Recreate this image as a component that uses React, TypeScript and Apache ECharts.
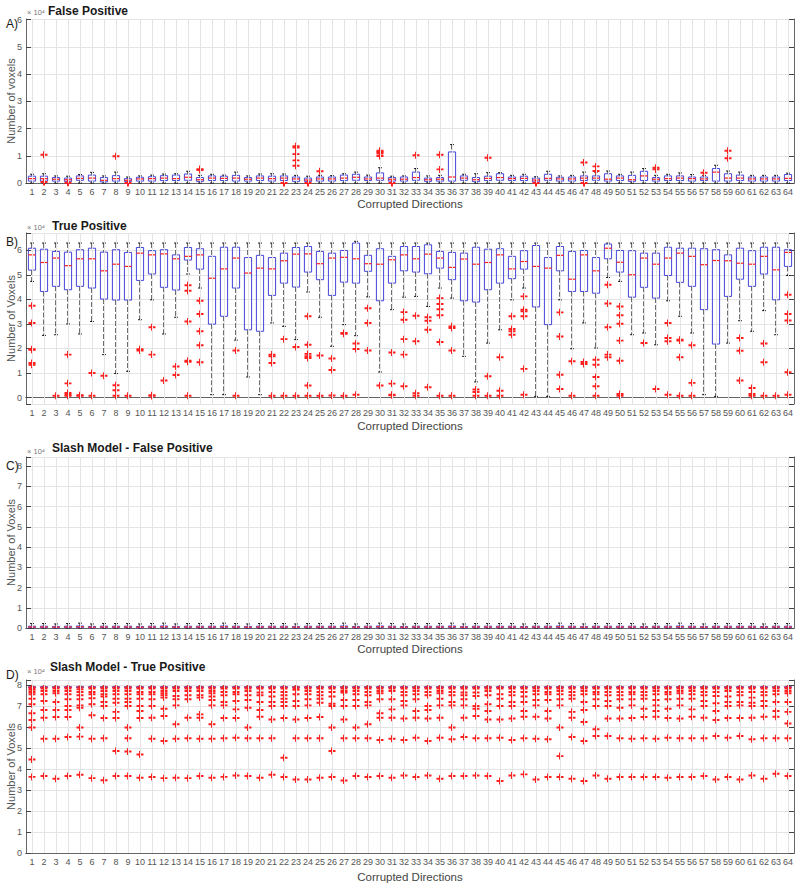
import React, { useEffect, useRef } from 'react';
import * as echarts from 'echarts';

// ---------------- DATA (values in units of 10^4 voxels) ----------------
const categories: string[] = Array.from({ length: 64 }, (_, i) => String(i + 1));

// Panel A — False Positive
const aLow = [
  0, 0, 0, 0, 0, 0, 0, 0,
  0, 0, 0, 0, 0, 0, 0, 0,
  0, 0, 0, 0, 0, 0, 0, 0,
  0, 0, 0, 0, 0, 0, 0, 0,
  0, 0, 0, 0, 0, 0, 0, 0,
  0, 0, 0, 0, 0, 0, 0, 0,
  0, 0, 0, 0, 0, 0, 0, 0,
  0, 0, 0, 0, 0, 0, 0, 0,
];
const aQ1 = [
  0.07, 0.07, 0.07, 0.06, 0.10, 0.07, 0.04, 0.07,
  0.06, 0.07, 0.07, 0.09, 0.09, 0.10, 0.06, 0.09,
  0.09, 0.07, 0.07, 0.09, 0.07, 0.09, 0.06, 0.06,
  0.07, 0.07, 0.09, 0.10, 0.09, 0.10, 0.07, 0.07,
  0.10, 0.06, 0.07, 0.07, 0.10, 0.05, 0.09, 0.10,
  0.09, 0.09, 0.04, 0.10, 0.07, 0.07, 0.09, 0.10,
  0.07, 0.09, 0.06, 0.09, 0.07, 0.09, 0.09, 0.07,
  0.09, 0.07, 0.07, 0.09, 0.07, 0.07, 0.07, 0.09,
];
const aMed = [
  0.16, 0.16, 0.14, 0.12, 0.17, 0.18, 0.10, 0.16,
  0.10, 0.15, 0.16, 0.18, 0.16, 0.21, 0.12, 0.18,
  0.17, 0.18, 0.14, 0.18, 0.16, 0.18, 0.15, 0.11,
  0.15, 0.15, 0.18, 0.21, 0.15, 0.18, 0.14, 0.14,
  0.20, 0.12, 0.14, 0.22, 0.18, 0.12, 0.17, 0.20,
  0.16, 0.17, 0.11, 0.17, 0.15, 0.15, 0.18, 0.18,
  0.14, 0.18, 0.12, 0.26, 0.14, 0.16, 0.18, 0.16,
  0.15, 0.40, 0.18, 0.18, 0.15, 0.15, 0.15, 0.17,
];
const aQ3 = [
  0.25, 0.25, 0.20, 0.18, 0.26, 0.29, 0.20, 0.27,
  0.16, 0.21, 0.23, 0.27, 0.29, 0.33, 0.20, 0.26,
  0.25, 0.28, 0.20, 0.26, 0.25, 0.26, 0.22, 0.18,
  0.22, 0.22, 0.29, 0.32, 0.22, 0.37, 0.20, 0.22,
  0.40, 0.18, 0.20, 1.14, 0.26, 0.20, 0.25, 0.34,
  0.22, 0.25, 0.18, 0.32, 0.21, 0.22, 0.26, 0.26,
  0.34, 0.26, 0.28, 0.43, 0.20, 0.26, 0.26, 0.22,
  0.22, 0.53, 0.34, 0.29, 0.22, 0.22, 0.22, 0.31,
];
const aHigh = [
  0.32, 0.34, 0.26, 0.25, 0.31, 0.39, 0.26, 0.40,
  0.22, 0.26, 0.29, 0.33, 0.34, 0.43, 0.28, 0.32,
  0.29, 0.40, 0.26, 0.33, 0.34, 0.33, 0.28, 0.25,
  0.28, 0.27, 0.34, 0.40, 0.29, 0.56, 0.25, 0.26,
  0.53, 0.26, 0.28, 1.41, 0.32, 0.34, 0.38, 0.38,
  0.28, 0.32, 0.23, 0.43, 0.26, 0.28, 0.40, 0.40,
  0.44, 0.32, 0.40, 0.53, 0.28, 0.32, 0.37, 0.31,
  0.28, 0.65, 0.44, 0.40, 0.28, 0.28, 0.28, 0.36,
];
const aOutliers: number[][] = [
  [], [1.04, 0.04], [], [0.01], [], [], [], [0.98],
  [0.0], [], [], [], [], [], [0.51, 0.48], [],
  [], [], [], [], [], [0.0], [1.35, 1.30, 1.06, 0.83, 0.63], [0.0],
  [0.43], [], [], [], [], [1.18, 1.14, 1.08, 0.99], [0.0], [],
  [1.02], [], [1.04, 0.50], [], [], [], [0.93], [],
  [], [], [0.0], [], [], [], [0.75, 0.0], [0.61, 0.44],
  [], [], [], [], [0.56, 0.50], [], [], [],
  [0.38], [], [1.18, 0.91], [], [], [], [], [],
];

// Panel B — True Positive
const bLow = [
  4.73, 2.53, 2.56, 3.00, 2.59, 3.10, 1.75, 0.98,
  1.07, 3.17, 3.98, 2.59, 3.27, 5.03, 4.46, 0.12,
  0.12, 2.34, 0.84, 0.12, 3.04, 2.90, 2.36, 4.30,
  3.27, 2.09, 2.97, 2.52, 4.10, 1.04, 3.58, 4.09,
  4.12, 3.71, 4.46, 4.05, 1.68, 0.64, 2.22, 2.76,
  3.98, 4.46, 0.05, 0.05, 3.98, 1.99, 3.04, 2.02,
  4.89, 4.73, 2.56, 2.63, 2.15, 3.94, 3.31, 2.63,
  0.12, 0.05, 2.22, 3.13, 2.70, 3.54, 2.56, 4.97,
];
const bQ1 = [
  5.19, 4.32, 4.53, 4.39, 4.53, 4.46, 4.01, 3.97,
  3.97, 4.77, 5.03, 4.49, 4.38, 5.60, 5.23, 2.99,
  3.31, 4.46, 2.76, 2.70, 4.16, 4.66, 4.50, 5.11,
  4.80, 4.16, 4.70, 4.66, 5.14, 3.94, 4.66, 5.16,
  5.11, 5.04, 5.27, 4.80, 3.94, 3.89, 4.39, 4.66,
  4.84, 5.23, 3.69, 2.97, 5.16, 4.32, 4.32, 4.25,
  5.65, 5.11, 4.09, 4.49, 4.05, 4.97, 4.69, 4.53,
  3.58, 2.18, 4.12, 4.82, 4.53, 5.03, 3.98, 5.34,
];
const bMed = [
  5.81, 5.50, 5.68, 5.37, 5.65, 5.65, 5.16, 5.43,
  5.34, 5.88, 5.81, 5.85, 5.65, 5.75, 5.81, 4.86,
  5.24, 5.68, 5.07, 5.27, 5.24, 5.57, 5.84, 5.85,
  5.45, 5.68, 5.71, 5.65, 5.45, 5.43, 5.61, 5.81,
  5.65, 5.84, 5.68, 5.30, 5.64, 5.43, 5.50, 5.81,
  5.24, 5.54, 5.34, 5.27, 5.79, 4.82, 5.81, 5.16,
  6.08, 5.51, 5.00, 5.68, 5.43, 5.68, 5.88, 5.75,
  5.41, 5.58, 5.57, 5.47, 5.43, 5.75, 5.20, 5.91,
];
const bQ3 = [
  6.08, 6.04, 5.95, 5.92, 6.02, 6.08, 5.92, 6.02,
  5.91, 6.11, 5.98, 6.02, 5.81, 6.11, 6.06, 5.75,
  6.12, 6.12, 5.70, 5.79, 5.70, 5.88, 6.11, 6.15,
  5.95, 5.88, 5.99, 6.29, 5.79, 6.06, 5.75, 6.15,
  6.15, 6.22, 5.95, 5.91, 5.88, 6.12, 6.04, 6.06,
  5.75, 5.98, 6.19, 5.70, 6.15, 5.95, 5.99, 5.70,
  6.25, 5.99, 5.98, 5.88, 5.88, 6.12, 6.08, 6.08,
  6.06, 6.02, 5.81, 6.08, 5.98, 6.12, 6.12, 6.02,
];
const bHigh = [
  6.29, 6.29, 6.29, 6.29, 6.29, 6.29, 6.29, 6.29,
  6.29, 6.29, 6.29, 6.29, 6.29, 6.29, 6.29, 6.29,
  6.29, 6.29, 6.29, 6.29, 6.29, 6.29, 6.29, 6.29,
  6.29, 6.29, 6.29, 6.36, 6.29, 6.29, 6.29, 6.29,
  6.29, 6.29, 6.29, 6.29, 6.29, 6.29, 6.29, 6.29,
  6.29, 6.29, 6.29, 6.29, 6.29, 6.29, 6.29, 6.29,
  6.29, 6.29, 6.29, 6.29, 6.29, 6.29, 6.29, 6.29,
  6.29, 6.29, 6.29, 6.29, 6.29, 6.29, 6.29, 6.29,
];
const bOutliers: number[][] = [
  [3.74, 3.04, 1.97, 1.95, 1.41, 1.34], [], [0.08], [1.75, 0.58, 0.19, 0.12, 0.08],
  [0.10, 0.08], [1.00, 0.08], [0.89], [0.50, 0.30, 0.08],
  [0.08], [1.97, 1.92], [2.86, 1.75, 0.10, 0.07], [0.70],
  [1.27, 0.92], [4.57, 4.35, 3.10, 1.50, 1.46, 0.08], [3.94, 3.40, 2.70, 2.13, 1.44], [],
  [], [1.92, 0.08], [], [],
  [1.75, 1.68, 1.41, 0.08], [2.38, 0.08], [2.06, 0.08], [3.31, 2.15, 1.78, 1.68, 1.61, 0.49, 0.08],
  [1.71, 0.08], [1.59, 1.12, 0.09], [2.63, 2.60, 0.08], [2.20, 1.98, 0.12],
  [3.64, 3.04, 1.92], [0.49], [1.84, 0.57, 0.12, 0.10], [3.48, 3.17, 2.38, 1.75, 0.46],
  [3.33, 2.29, 0.18, 0.08], [3.27, 3.13, 2.76, 0.42], [4.05, 3.81, 3.60, 3.35, 2.26, 0.08], [2.90, 2.83, 1.92, 0.08],
  [], [0.33, 0.23, 0.08], [0.87, 0.08], [1.64, 0.28, 0.08],
  [3.31, 2.79, 2.70, 2.56], [4.12, 3.58, 3.51, 3.31, 1.17, 0.12], [], [],
  [3.47, 2.49, 0.93, 0.35], [1.48, 0.08], [1.45, 1.37], [1.54, 1.34, 0.84, 0.46, 0.08],
  [4.59, 3.83, 2.86, 1.75, 1.64], [3.71, 3.35, 3.01, 2.32, 1.50, 0.15, 0.08], [], [2.22],
  [0.35], [3.04, 2.43, 2.29, 0.12], [2.36, 2.32, 1.64, 0.08], [2.13, 0.60, 0.08],
  [], [], [], [2.43, 1.91, 0.70],
  [0.39, 0.15, 0.08], [2.20, 1.44, 0.08], [0.08], [4.19, 3.40, 3.14, 1.03, 0.12],
];

// Panel C — Slash Model, False Positive
const cLow = [
  0, 0, 0, 0, 0, 0, 0, 0,
  0, 0, 0, 0, 0, 0, 0, 0,
  0, 0, 0, 0, 0, 0, 0, 0,
  0, 0, 0, 0, 0, 0, 0, 0,
  0, 0, 0, 0, 0, 0, 0, 0,
  0, 0, 0, 0, 0, 0, 0, 0,
  0, 0, 0, 0, 0, 0, 0, 0,
  0, 0, 0, 0, 0, 0, 0, 0,
];
const cQ1 = [
  0.02, 0.02, 0.01, 0.02, 0.02, 0.01, 0.02, 0.02,
  0.02, 0.01, 0.02, 0.02, 0.01, 0.02, 0.02, 0.02,
  0.02, 0.02, 0.01, 0.02, 0.02, 0.02, 0.01, 0.02,
  0.02, 0.02, 0.02, 0.01, 0.02, 0.02, 0.02, 0.01,
  0.02, 0.02, 0.02, 0.02, 0.01, 0.02, 0.02, 0.02,
  0.02, 0.01, 0.02, 0.02, 0.02, 0.02, 0.01, 0.02,
  0.02, 0.02, 0.02, 0.01, 0.02, 0.02, 0.02, 0.02,
  0.01, 0.02, 0.02, 0.02, 0.02, 0.01, 0.02, 0.02,
];
const cMed = [
  0.05, 0.05, 0.04, 0.05, 0.06, 0.04, 0.05, 0.05,
  0.05, 0.04, 0.05, 0.06, 0.04, 0.05, 0.05, 0.05,
  0.06, 0.05, 0.04, 0.05, 0.05, 0.05, 0.04, 0.05,
  0.05, 0.05, 0.06, 0.04, 0.05, 0.06, 0.05, 0.04,
  0.05, 0.05, 0.05, 0.06, 0.04, 0.05, 0.05, 0.05,
  0.05, 0.04, 0.05, 0.05, 0.06, 0.05, 0.04, 0.05,
  0.05, 0.05, 0.05, 0.04, 0.05, 0.05, 0.06, 0.05,
  0.04, 0.05, 0.05, 0.05, 0.05, 0.04, 0.05, 0.05,
];
const cQ3 = [
  0.09, 0.09, 0.08, 0.09, 0.10, 0.08, 0.09, 0.09,
  0.09, 0.08, 0.09, 0.10, 0.08, 0.09, 0.09, 0.09,
  0.10, 0.09, 0.08, 0.09, 0.09, 0.09, 0.08, 0.09,
  0.09, 0.09, 0.10, 0.08, 0.09, 0.10, 0.09, 0.08,
  0.09, 0.09, 0.09, 0.10, 0.08, 0.09, 0.09, 0.09,
  0.09, 0.08, 0.09, 0.09, 0.10, 0.09, 0.08, 0.09,
  0.09, 0.09, 0.09, 0.08, 0.09, 0.09, 0.10, 0.09,
  0.08, 0.09, 0.09, 0.09, 0.09, 0.08, 0.09, 0.09,
];
const cHigh = [
  0.22, 0.22, 0.20, 0.22, 0.24, 0.20, 0.22, 0.22,
  0.22, 0.20, 0.22, 0.24, 0.20, 0.22, 0.22, 0.22,
  0.24, 0.22, 0.20, 0.22, 0.22, 0.22, 0.20, 0.22,
  0.22, 0.22, 0.24, 0.20, 0.22, 0.24, 0.22, 0.20,
  0.22, 0.22, 0.22, 0.24, 0.20, 0.22, 0.22, 0.22,
  0.22, 0.20, 0.22, 0.22, 0.24, 0.22, 0.20, 0.22,
  0.22, 0.22, 0.22, 0.20, 0.22, 0.22, 0.24, 0.22,
  0.20, 0.22, 0.22, 0.22, 0.22, 0.20, 0.22, 0.22,
];
const cOutliers: number[][] = [
  [], [], [], [], [], [], [], [],
  [], [], [], [], [], [], [], [],
  [], [], [], [], [], [], [], [],
  [], [], [], [], [], [], [], [],
  [], [], [], [], [], [], [], [],
  [], [], [], [], [], [], [], [],
  [], [], [], [], [], [], [], [],
  [], [], [], [], [], [], [], [],
];

// Panel D — Slash Model, True Positive
const dLow = [
  7.87, 7.87, 7.87, 7.87, 7.87, 7.87, 7.87, 7.87,
  7.87, 7.87, 7.87, 7.87, 7.87, 7.87, 7.87, 7.87,
  7.87, 7.87, 7.87, 7.87, 7.87, 7.87, 7.87, 7.87,
  7.87, 7.87, 7.87, 7.87, 7.87, 7.87, 7.87, 7.87,
  7.87, 7.87, 7.87, 7.87, 7.87, 7.87, 7.87, 7.87,
  7.87, 7.87, 7.87, 7.87, 7.87, 7.87, 7.87, 7.87,
  7.87, 7.87, 7.87, 7.87, 7.87, 7.87, 7.87, 7.87,
  7.87, 7.87, 7.87, 7.87, 7.87, 7.87, 7.87, 7.87,
];
const dQ1 = [
  7.89, 7.89, 7.89, 7.89, 7.89, 7.89, 7.89, 7.89,
  7.89, 7.89, 7.89, 7.89, 7.89, 7.89, 7.89, 7.89,
  7.89, 7.89, 7.89, 7.89, 7.89, 7.89, 7.89, 7.89,
  7.89, 7.89, 7.89, 7.89, 7.89, 7.89, 7.89, 7.89,
  7.89, 7.89, 7.89, 7.89, 7.89, 7.89, 7.89, 7.89,
  7.89, 7.89, 7.89, 7.89, 7.89, 7.89, 7.89, 7.89,
  7.89, 7.89, 7.89, 7.89, 7.89, 7.89, 7.89, 7.89,
  7.89, 7.89, 7.89, 7.89, 7.89, 7.89, 7.89, 7.89,
];
const dMed = [
  7.91, 7.91, 7.91, 7.91, 7.91, 7.91, 7.91, 7.91,
  7.91, 7.91, 7.91, 7.91, 7.91, 7.91, 7.91, 7.91,
  7.91, 7.91, 7.91, 7.91, 7.91, 7.91, 7.91, 7.91,
  7.91, 7.91, 7.91, 7.91, 7.91, 7.91, 7.91, 7.91,
  7.91, 7.91, 7.91, 7.91, 7.91, 7.91, 7.91, 7.91,
  7.91, 7.91, 7.91, 7.91, 7.91, 7.91, 7.91, 7.91,
  7.91, 7.91, 7.91, 7.91, 7.91, 7.91, 7.91, 7.91,
  7.91, 7.91, 7.91, 7.91, 7.91, 7.91, 7.91, 7.91,
];
const dQ3 = [
  7.93, 7.93, 7.93, 7.93, 7.93, 7.93, 7.93, 7.93,
  7.93, 7.93, 7.93, 7.93, 7.93, 7.93, 7.93, 7.93,
  7.93, 7.93, 7.93, 7.93, 7.93, 7.93, 7.93, 7.93,
  7.93, 7.93, 7.93, 7.93, 7.93, 7.93, 7.93, 7.93,
  7.93, 7.93, 7.93, 7.93, 7.93, 7.93, 7.93, 7.93,
  7.93, 7.93, 7.93, 7.93, 7.93, 7.93, 7.93, 7.93,
  7.93, 7.93, 7.93, 7.93, 7.93, 7.93, 7.93, 7.93,
  7.93, 7.93, 7.93, 7.93, 7.93, 7.93, 7.93, 7.93,
];
const dHigh = [
  7.95, 7.95, 7.95, 7.95, 7.95, 7.95, 7.95, 7.95,
  7.95, 7.95, 7.95, 7.95, 7.95, 7.95, 7.95, 7.95,
  7.95, 7.95, 7.95, 7.95, 7.95, 7.95, 7.95, 7.95,
  7.95, 7.95, 7.95, 7.95, 7.95, 7.95, 7.95, 7.95,
  7.95, 7.95, 7.95, 7.95, 7.95, 7.95, 7.95, 7.95,
  7.95, 7.95, 7.95, 7.95, 7.95, 7.95, 7.95, 7.95,
  7.95, 7.95, 7.95, 7.95, 7.95, 7.95, 7.95, 7.95,
  7.95, 7.95, 7.95, 7.95, 7.95, 7.95, 7.95, 7.95,
];
const dOutliers: number[][] = [
  [7.86, 7.78, 7.68, 7.57, 7.36, 7.09, 6.66, 6.34, 5.98, 4.46, 3.63],
  [7.84, 7.73, 7.57, 7.25, 6.82, 6.45, 5.45, 3.67],
  [7.84, 7.73, 7.62, 7.20, 6.82, 6.49, 5.45, 3.54],
  [7.84, 7.73, 7.57, 7.33, 7.01, 6.82, 6.49, 5.53, 3.67],
  [7.81, 7.68, 7.52, 7.33, 7.04, 6.93, 5.98, 5.55, 3.73],
  [7.84, 7.68, 7.57, 7.38, 7.09, 6.57, 5.45, 3.57],
  [7.84, 7.73, 7.57, 7.46, 7.20, 7.01, 6.44, 5.47, 3.47],
  [7.84, 7.73, 7.57, 7.36, 7.17, 6.73, 6.44, 4.86, 3.67],
  [7.84, 7.73, 7.57, 7.36, 7.20, 7.01, 5.98, 5.47, 4.84, 3.67],
  [7.84, 7.68, 7.57, 7.36, 7.01, 6.77, 6.44, 4.70, 3.59],
  [7.84, 7.68, 7.57, 7.33, 7.01, 6.45, 5.45, 3.62],
  [7.84, 7.73, 7.62, 7.52, 7.41, 6.88, 6.53, 5.34, 3.57],
  [7.84, 7.73, 7.49, 7.33, 7.04, 6.14, 5.45, 3.59],
  [7.84, 7.73, 7.52, 7.33, 6.45, 5.47, 3.57],
  [7.84, 7.73, 7.52, 7.41, 6.61, 6.45, 5.45, 3.67],
  [7.84, 7.73, 7.62, 7.46, 7.30, 7.04, 6.14, 5.45, 3.59],
  [7.84, 7.68, 7.52, 7.20, 7.04, 6.44, 5.47, 3.63],
  [7.84, 7.68, 7.57, 7.25, 6.85, 6.44, 5.50, 3.70],
  [7.84, 7.73, 7.52, 7.30, 6.93, 5.98, 5.47, 3.67],
  [7.84, 7.65, 7.52, 7.20, 6.82, 6.50, 5.47, 3.59],
  [7.84, 7.68, 7.46, 7.20, 7.01, 6.37, 5.47, 3.73],
  [7.84, 7.68, 7.52, 7.36, 7.20, 7.01, 6.44, 4.54, 3.62],
  [7.84, 7.78, 7.57, 7.25, 7.01, 6.37, 5.47, 3.51],
  [7.84, 7.73, 7.57, 7.33, 7.04, 6.44, 5.47, 3.51],
  [7.84, 7.68, 7.52, 7.36, 7.17, 6.49, 5.47, 3.59],
  [7.84, 7.68, 7.46, 7.12, 7.01, 5.98, 4.86, 3.62],
  [7.84, 7.73, 7.65, 7.30, 7.01, 6.37, 5.47, 3.46],
  [7.84, 7.73, 7.57, 7.30, 7.01, 5.98, 5.47, 3.67],
  [7.84, 7.68, 7.52, 7.20, 7.04, 6.14, 5.47, 3.62],
  [7.84, 7.73, 7.62, 7.33, 6.66, 6.45, 5.39, 3.67],
  [7.84, 7.73, 7.33, 6.85, 6.45, 5.45, 3.59],
  [7.84, 7.68, 7.52, 7.25, 7.04, 6.41, 5.39, 3.70],
  [7.84, 7.73, 7.57, 7.33, 6.77, 6.45, 5.50, 3.62],
  [7.84, 7.68, 7.52, 7.01, 6.82, 6.41, 5.34, 3.70],
  [7.84, 7.73, 7.62, 7.36, 7.04, 6.45, 5.50, 3.54],
  [7.84, 7.68, 7.52, 7.20, 7.04, 5.98, 5.42, 3.67],
  [7.84, 7.65, 7.52, 7.33, 7.04, 6.45, 5.53, 3.67],
  [7.84, 7.65, 7.49, 7.01, 6.88, 6.53, 5.47, 3.70],
  [7.84, 7.73, 7.52, 7.09, 6.77, 6.37, 5.47, 3.67],
  [7.84, 7.57, 7.36, 7.01, 6.37, 5.50, 3.43],
  [7.84, 7.68, 7.52, 7.20, 7.01, 6.41, 5.39, 3.70],
  [7.84, 7.68, 7.46, 7.20, 6.77, 6.50, 5.47, 3.75],
  [7.84, 7.73, 7.57, 7.30, 7.04, 6.50, 5.45, 3.51],
  [7.84, 7.68, 7.57, 7.30, 6.77, 6.41, 5.42, 3.62],
  [7.84, 7.73, 7.57, 7.33, 7.04, 5.98, 4.62, 3.62],
  [7.84, 7.68, 7.52, 7.36, 6.73, 6.45, 5.53, 3.54],
  [7.84, 7.73, 7.57, 7.20, 6.82, 6.25, 5.34, 3.43],
  [7.84, 7.68, 7.57, 7.33, 7.01, 5.90, 5.58, 3.70],
  [7.84, 7.68, 7.52, 7.25, 7.01, 6.41, 5.58, 3.54],
  [7.84, 7.68, 7.52, 7.33, 6.93, 6.41, 5.47, 3.62],
  [7.84, 7.68, 7.57, 7.33, 7.04, 6.44, 5.45, 3.62],
  [7.84, 7.68, 7.52, 7.36, 6.88, 6.49, 5.47, 3.62],
  [7.84, 7.73, 7.57, 7.30, 7.04, 6.77, 6.50, 5.45, 3.62],
  [7.84, 7.68, 7.57, 7.33, 6.88, 6.44, 5.50, 3.59],
  [7.84, 7.73, 7.62, 7.36, 7.04, 6.41, 5.47, 3.62],
  [7.84, 7.73, 7.57, 7.36, 6.85, 6.50, 5.47, 3.62],
  [7.84, 7.68, 7.52, 7.25, 7.01, 6.45, 5.47, 3.67],
  [7.84, 7.68, 7.49, 7.14, 6.77, 6.34, 5.58, 3.51],
  [7.84, 7.73, 7.46, 7.20, 7.01, 6.44, 5.50, 3.62],
  [7.84, 7.68, 7.52, 7.20, 7.04, 6.44, 5.58, 3.51],
  [7.84, 7.68, 7.41, 7.17, 7.01, 6.45, 5.42, 3.70],
  [7.84, 7.68, 7.52, 7.25, 7.01, 6.50, 5.47, 3.54],
  [7.84, 7.73, 7.57, 7.20, 6.77, 6.50, 5.47, 3.78],
  [7.84, 7.73, 7.62, 7.20, 6.73, 6.18, 5.47, 3.67],
];

// ---------------- LAYOUT / STYLE ----------------
const FONT = '"Liberation Sans", Arial, Helvetica, sans-serif';
const BLUE = '#4545d8';
const RED = '#ff2020';
const GRID_LINE = '#e4e4e4';
const AXIS = '#666666';
const LABEL = '#555555';
const PLUS = 'path://M3.6,0H6.4V3.6H10V6.4H6.4V10H3.6V6.4H0V3.6H3.6Z';

type PanelData = { low: number[]; q1: number[]; med: number[]; q3: number[]; high: number[]; outliers: number[][] };

const panelData: PanelData[] = [
  { low: aLow, q1: aQ1, med: aMed, q3: aQ3, high: aHigh, outliers: aOutliers },
  { low: bLow, q1: bQ1, med: bMed, q3: bQ3, high: bHigh, outliers: bOutliers },
  { low: cLow, q1: cQ1, med: cMed, q3: cQ3, high: cHigh, outliers: cOutliers },
  { low: dLow, q1: dQ1, med: dMed, q3: dQ3, high: dHigh, outliers: dOutliers },
];

const layouts = [
  { letter: 'A)', title: 'False Positive', yName: 'Number of voxels', top: 19, height: 164, min: 0, max: 6.02, split: 6, titleLeft: 48, titleTop: 5, letterY: 24, expY: 12, nameGap: 15 },
  { letter: 'B)', title: 'True Positive', yName: 'Number of Voxels', top: 233, height: 171, min: -0.26, max: 6.7, split: 7, titleLeft: 52, titleTop: 220, letterY: 242, expY: 227, nameGap: 16 },
  { letter: 'C)', title: 'Slash Model - False Positive', yName: 'Number of Voxels', top: 457, height: 171, min: 0, max: 8.45, split: 8, titleLeft: 52, titleTop: 442, letterY: 466, expY: 451, nameGap: 15 },
  { letter: 'D)', title: 'Slash Model - True Positive', yName: 'Number of Voxels', top: 680, height: 173, min: 0, max: 8.25, split: 8, titleLeft: 50, titleTop: 661, letterY: 675, expY: 671, nameGap: 18 },
];

const intLabel = (v: number) => (Math.abs(v - Math.round(v)) < 1e-6 ? String(Math.round(v)) : '');

function renderBox(params: any, api: any) {
  const idx = api.value(0);
  const lo = api.coord([idx, api.value(1)]);
  const q1 = api.coord([idx, api.value(2)]);
  const md = api.coord([idx, api.value(3)]);
  const q3 = api.coord([idx, api.value(4)]);
  const hi = api.coord([idx, api.value(5)]);
  const band = api.size([1, 0])[0];
  const half = band * 0.3;
  const cap = band * 0.16;
  const cx = lo[0];
  const dash = { stroke: '#111', lineWidth: 1.2, lineDash: [5, 2] };
  const solid = { stroke: '#111', lineWidth: 1 };
  return {
    type: 'group',
    children: [
      { type: 'line', shape: { x1: cx, y1: hi[1], x2: cx, y2: q3[1] }, style: dash },
      { type: 'line', shape: { x1: cx, y1: q1[1], x2: cx, y2: lo[1] }, style: dash },
      { type: 'line', shape: { x1: cx - cap, y1: hi[1], x2: cx + cap, y2: hi[1] }, style: solid },
      { type: 'line', shape: { x1: cx - cap, y1: lo[1], x2: cx + cap, y2: lo[1] }, style: solid },
      {
        type: 'rect',
        shape: { x: cx - half, y: q3[1], width: half * 2, height: Math.max(q1[1] - q3[1], 0.5) },
        style: { stroke: BLUE, fill: 'rgba(0,0,0,0)', lineWidth: 1 },
      },
      { type: 'line', shape: { x1: cx - half, y1: md[1], x2: cx + half, y2: md[1] }, style: { stroke: RED, lineWidth: 1.2 } },
    ],
  };
}

function buildOption() {
  const xAxis: any[] = [];
  const yAxis: any[] = [];
  const series: any[] = [];
  const graphic: any[] = [];

  layouts.forEach((l, i) => {
    xAxis.push({
      type: 'category',
      gridIndex: i,
      position: 'bottom',
      data: categories,
      boundaryGap: true,
      axisLine: { lineStyle: { color: AXIS, width: 1 } },
      axisTick: { inside: true, alignWithLabel: true, length: 6, interval: 0, lineStyle: { color: '#444' } },
      axisLabel: { interval: 0, fontSize: 9, color: LABEL, margin: 4, fontFamily: FONT },
      splitLine: { show: false },
      name: 'Corrupted Directions',
      nameLocation: 'middle',
      nameGap: l.nameGap,
      nameMoveOverlap: false,
      nameTextStyle: { fontSize: 11.5, color: '#444', fontFamily: FONT },
    });
    xAxis.push({
      type: 'category',
      gridIndex: i,
      position: 'top',
      data: categories,
      boundaryGap: true,
      axisLine: { lineStyle: { color: AXIS, width: 1 } },
      axisTick: { inside: true, alignWithLabel: true, length: 6, interval: 0, lineStyle: { color: '#444' } },
      axisLabel: { show: false },
      splitLine: { show: false },
    });
    yAxis.push({
      type: 'value',
      gridIndex: i,
      position: 'left',
      min: l.min,
      max: l.max,
      splitNumber: l.split,
      axisLine: { show: true, lineStyle: { color: AXIS, width: 1 } },
      axisTick: { show: true, inside: true, length: 5, lineStyle: { color: '#444' } },
      axisLabel: {
        fontSize: 9,
        color: LABEL,
        margin: 4,
        formatter: intLabel,
        fontFamily: FONT,
        verticalAlign: 'middle',
        hideOverlap: false,
      },
      splitLine: { show: true, lineStyle: { color: GRID_LINE, width: 1 } },
      name: l.yName,
      nameLocation: 'middle',
      nameGap: 10,
      nameMoveOverlap: false,
      nameTextStyle: { fontSize: 11, color: '#555', fontFamily: FONT },
    });
    yAxis.push({
      type: 'value',
      gridIndex: i,
      position: 'right',
      min: l.min,
      max: l.max,
      splitNumber: l.split,
      axisLine: { show: true, lineStyle: { color: AXIS, width: 1 } },
      axisTick: { show: true, inside: true, length: 5, lineStyle: { color: '#444' } },
      axisLabel: { show: false },
      splitLine: { show: false },
    });

    // vertical grid lines at each category (MATLAB grid)
    series.push({
      type: 'line',
      name: 'grid' + i,
      xAxisIndex: i * 2,
      yAxisIndex: i * 2,
      data: [],
      silent: true,
      z: 1,
      markLine: {
        silent: true,
        symbol: ['none', 'none'],
        label: { show: false },
        lineStyle: { color: GRID_LINE, width: 1, type: 'solid' },
        data: categories.map((c) => ({ xAxis: c })),
      },
    });

    const p = panelData[i];
    series.push({
      type: 'custom',
      name: 'box' + i,
      xAxisIndex: i * 2,
      yAxisIndex: i * 2,
      renderItem: renderBox,
      encode: { x: 0, y: [1, 2, 3, 4, 5] },
      data: categories.map((_, k) => [k, p.low[k], p.q1[k], p.med[k], p.q3[k], p.high[k]]),
      z: 3,
      silent: true,
    });
    const out: number[][] = [];
    p.outliers.forEach((vals, k) => vals.forEach((v) => out.push([k, v])));
    series.push({
      type: 'scatter',
      name: 'out' + i,
      xAxisIndex: i * 2,
      yAxisIndex: i * 2,
      symbol: PLUS,
      symbolSize: 7,
      itemStyle: { color: RED, opacity: 1 },
      data: out,
      z: 4,
      silent: true,
    });

    graphic.push({
      type: 'text',
      x: 6,
      y: l.letterY,
      style: { text: l.letter, font: `12px ${FONT}`, fill: '#1a1a1a', verticalAlign: 'middle' },
    });
    graphic.push({
      type: 'text',
      x: 27,
      y: l.expY,
      style: { text: '× 10⁴', font: `7.5px ${FONT}`, fill: '#777', verticalAlign: 'middle' },
    });
  });

  return {
    animation: false,
    backgroundColor: '#ffffff',
    textStyle: { fontFamily: FONT },
    title: layouts.map((l) => ({
      text: l.title,
      left: l.titleLeft,
      top: l.titleTop,
      padding: 0,
      textStyle: { fontSize: 12, fontWeight: 'bold', color: '#1a1a1a', fontFamily: FONT },
    })),
    grid: layouts.map((l) => ({
      left: 26,
      width: 768,
      top: l.top,
      height: l.height,
      containLabel: false,
      outerBoundsMode: 'none',
    })),
    xAxis,
    yAxis,
    series,
    graphic,
  };
}

export default function App() {
  const ref = useRef<HTMLDivElement>(null);
  useEffect(() => {
    document.body.style.margin = '0';
    if (!ref.current) return;
    const chart = echarts.init(ref.current, undefined, { renderer: 'svg' });
    chart.setOption(buildOption() as any);
    return () => chart.dispose();
  }, []);
  return <div ref={ref} style={{ width: 800, height: 890 }} />;
}
